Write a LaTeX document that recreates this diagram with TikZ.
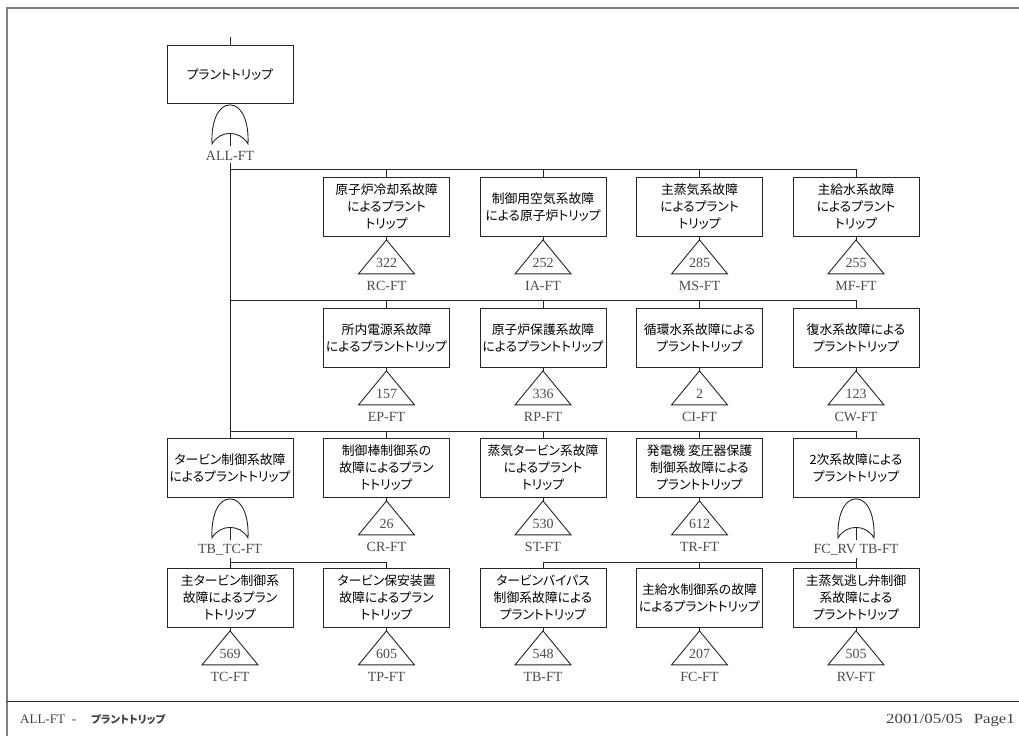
\documentclass[tikz,border=0pt]{standalone}
\usepackage{fontspec}
\newfontfamily\jp[RawFeature={+palt}]{Noto Sans CJK JP}
\newfontfamily\lab{Liberation Serif}
\newfontfamily\labwide[FakeStretch=1.2]{Liberation Serif}

% basic event box with its transfer triangle below
\newcommand\xfer[3]{%
  \coordinate (#1-t) at ([yshift=-3pt]#1.south);
  \draw[wire] (#1.south) -- (#1-t);
  \draw[wire] (#1-t) -- ++(-28,34) -- ++(56,0) -- cycle;
  \node[lbl] (#1-n) at ([yshift=-26pt]#1.south) {#2};
  \node[lbl] (#1-l) at ([yshift=-49pt]#1.south) {#3};
}
% OR gate hanging under an event box
\newcommand\orgate[2]{%
  \begin{scope}[shift={(#1.south)}]
    \draw[wire] (-18,40) .. controls (-19,18) and (-12,1) .. (0,1)
                         .. controls (12,1) and (19,18) .. (18,40)
                         .. controls (10,26) and (-10,26) .. cycle;
    \draw[wire] (0,29) -- (0,42);
    \node[lbl] (#1-l) at (0,52) {#2};
  \end{scope}}

\begin{document}
\begin{tikzpicture}[x=1pt,y=-1pt,
  wire/.style={line width=0.9pt, draw=black!85},
  ev/.style={draw=black!85, line width=0.9pt, minimum width=126pt,
    minimum height=59pt, align=center, anchor=north, inner sep=1pt,
    font=\jp\fontsize{12.8}{17}\selectfont},
  lbl/.style={font=\lab\fontsize{14}{14}\selectfont, text=black!70, inner sep=0pt},
  frame/.style={line width=1.6pt, draw=black!50}]
\useasboundingbox (0,0) rectangle (1019,736);

% page frame and footer
\draw[frame] (1019,8) -- (7,8) -- (7,736);
\draw[line width=0.9pt, draw=black!85] (7,701) -- (1019,701);
\node[anchor=base west, inner sep=0pt, text=black!75] (fl) at (20,723)
  {\lab\fontsize{13}{13}\selectfont ALL-FT\hspace{7pt}-\hspace{15pt}{\jp\bfseries\fontsize{10.5}{13}\selectfont プラントトリップ}};
\node[anchor=base east, inner sep=0pt, text=black!75] (fr) at (1015,723)
  {\labwide\fontsize{14}{14}\selectfont 2001/05/05\hspace{11pt}Page1};

% top event
\coordinate (in) at (230,37);
\node[ev, minimum height=58pt] (top) at (230,45) {プラントトリップ};
\draw[wire] (in) -- (top.north);
\orgate{top}{ALL-FT}

% row 1
\node[ev] (r1c1) at (386.5,177) {原子炉冷却系故障\\によるプラント\\トリップ};
\node[ev] (r1c2) at (543,177) {制御用空気系故障\\による原子炉トリップ};
\node[ev] (r1c3) at (699.5,177) {主蒸気系故障\\によるプラント\\トリップ};
\node[ev] (r1c4) at (856,177) {主給水系故障\\によるプラント\\トリップ};
\xfer{r1c1}{322}{RC-FT}
\xfer{r1c2}{252}{IA-FT}
\xfer{r1c3}{285}{MS-FT}
\xfer{r1c4}{255}{MF-FT}

% row 2
\node[ev] (r2c1) at (386.5,308) {所内電源系故障\\によるプラントトリップ};
\node[ev] (r2c2) at (543,308) {原子炉保護系故障\\によるプラントトリップ};
\node[ev] (r2c3) at (699.5,308) {循環水系故障による\\プラントトリップ};
\node[ev] (r2c4) at (856,308) {復水系故障による\\プラントトリップ};
\xfer{r2c1}{157}{EP-FT}
\xfer{r2c2}{336}{RP-FT}
\xfer{r2c3}{2}{CI-FT}
\xfer{r2c4}{123}{CW-FT}

% row 3
\node[ev] (r3c0) at (230,438) {タービン制御系故障\\によるプラントトリップ};
\node[ev] (r3c1) at (386.5,438) {制御棒制御系の\\故障によるプラン\\トトリップ};
\node[ev] (r3c2) at (543,438) {蒸気タービン系故障\\によるプラント\\トリップ};
\node[ev] (r3c3) at (699.5,438) {発電機 変圧器保護\\制御系故障による\\プラントトリップ};
\node[ev] (r3c4) at (856,438) {2次系故障による\\プラントトリップ};
\orgate{r3c0}{TB\_TC-FT}
\xfer{r3c1}{26}{CR-FT}
\xfer{r3c2}{530}{ST-FT}
\xfer{r3c3}{612}{TR-FT}
\orgate{r3c4}{FC\_RV TB-FT}

% row 4
\node[ev] (r4c0) at (230,568) {主タービン制御系\\故障によるプラン\\トトリップ};
\node[ev] (r4c1) at (386.5,568) {タービン保安装置\\故障によるプラン\\トトリップ};
\node[ev] (r4c2) at (543,568) {タービンバイパス\\制御系故障による\\プラントトリップ};
\node[ev] (r4c3) at (699.5,568) {主給水制御系の故障\\によるプラントトリップ};
\node[ev] (r4c4) at (856,568) {主蒸気逃し弁制御\\系故障による\\プラントトリップ};
\xfer{r4c0}{569}{TC-FT}
\xfer{r4c1}{605}{TP-FT}
\xfer{r4c2}{548}{TB-FT}
\xfer{r4c3}{207}{FC-FT}
\xfer{r4c4}{505}{RV-FT}

% connectors
\coordinate (b1) at (230,169);
\coordinate (b2) at (230,300);
\coordinate (b3) at (230,431);
\coordinate (b4a) at (230,562);
\coordinate (b4b) at (856,562);
\draw[wire] ([yshift=-2pt]top-l.south) -- (r3c0.north);
\foreach \c in {1,2,3,4}{
  \draw[wire] (r1c\c.north) |- (b1);
  \draw[wire] (r2c\c.north) |- (b2);
  \draw[wire] (r3c\c.north) |- (b3);
}
\draw[wire] ([yshift=-2pt]r3c0-l.south) -- (r4c0.north);
\draw[wire] (r4c1.north) |- (b4a);
\draw[wire] ([yshift=-2pt]r3c4-l.south) -- (r4c4.north);
\draw[wire] (r4c2.north) |- (b4b);
\draw[wire] (r4c3.north) |- (b4b);
\end{tikzpicture}
\end{document}
